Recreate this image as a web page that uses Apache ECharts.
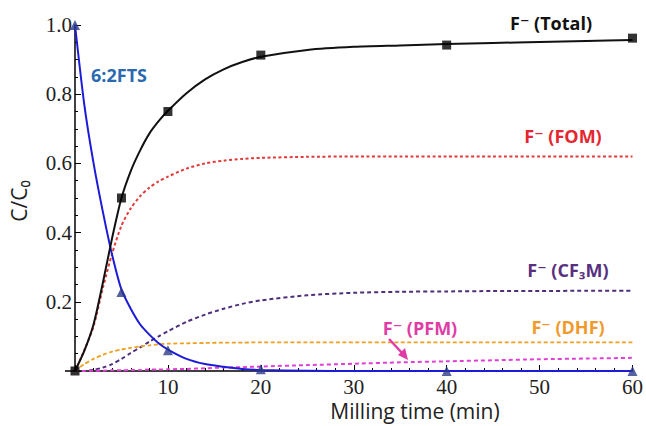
<!DOCTYPE html>
<html>
<head>
<meta charset="utf-8">
<script src="https://cdn.jsdelivr.net/npm/echarts@6/dist/echarts.min.js"></script>
<style>
html,body{margin:0;padding:0;background:#fff;}
#chart{width:646px;height:426px;}
</style>
</head>
<body>
<div id="chart"></div>
<script>
// ---- data ----
const curveT   = [0,1,2,3,4,5,6,7,8,9,10,12,14,16,18,20,25,30,35,40,45,50,55,60];
const totalFit = [0,0.058,0.135,0.255,0.385,0.5,0.578,0.637,0.686,0.722,0.752,0.803,0.843,0.872,0.893,0.908,0.928,0.937,0.941,0.945,0.948,0.951,0.954,0.957];
const ftsFit   = [1.0,0.77,0.6,0.46,0.335,0.235,0.18,0.135,0.105,0.08,0.062,0.035,0.02,0.012,0.006,0.003,0.001,0,0,0,0,0,0,0];
const fomFit   = [0,0.06,0.13,0.24,0.34,0.42,0.47,0.505,0.53,0.548,0.562,0.585,0.6,0.608,0.613,0.616,0.619,0.62,0.62,0.62,0.62,0.62,0.62,0.62];
const cf3mFit  = [0,0,0.003,0.01,0.02,0.035,0.052,0.068,0.085,0.1,0.115,0.142,0.163,0.18,0.194,0.204,0.219,0.226,0.229,0.23,0.231,0.231,0.232,0.232];
const dhfFit   = [0,0.02,0.035,0.047,0.056,0.062,0.067,0.071,0.074,0.077,0.079,0.08,0.081,0.082,0.082,0.083,0.083,0.083,0.083,0.083,0.083,0.083,0.083,0.083];
const pfmFit   = [0,0,0.001,0.001,0.002,0.002,0.003,0.003,0.004,0.004,0.005,0.006,0.008,0.01,0.011,0.013,0.017,0.021,0.025,0.028,0.031,0.034,0.036,0.038];

const measT    = [0,5,10,20,40,60];
const totalObs = [0,0.5,0.75,0.913,0.942,0.962];
const ftsObs   = [1.0,0.228,0.06,0.005,0,0];

const xTicks = [10,20,30,40,50,60];
const yTicks = [0.2,0.4,0.6,0.8,1.0];

const pair = (xs, ys) => xs.map((x, i) => [x, ys[i]]);

const chart = echarts.init(document.getElementById('chart'), null, {renderer: 'svg'});

function fitLine(name, data, color, width, dash, z) {
  return {
    name, type: 'line', data: pair(curveT, data), smooth: 0.25,
    showSymbol: false, symbol: 'none', z: z || 2,
    lineStyle: {color, width, type: dash || 'solid'}
  };
}

const labelFont = "'Open Sans', 'DejaVu Sans', sans-serif";
function note(text, x, y, color) {
  return {
    type: 'text', x, y,
    style: {text, fill: color, font: "bold 18px " + labelFont, textAlign: 'center', textVerticalAlign: 'middle'},
    z: 10
  };
}

chart.setOption({
  animation: false,
  grid: {left: 75, right: 10, top: 25, bottom: 55},
  xAxis: {
    type: 'value', min: 0, max: 60, interval: 10,
    axisLine: {lineStyle: {color: '#000', width: 1.5}},
    axisTick: {inside: true, length: 6, lineStyle: {color: '#000'}},
    minorTick: {show: true, splitNumber: 5, length: 3, lineStyle: {color: '#000'}},
    splitLine: {show: false},
    axisLabel: {
      showMinLabel: false, margin: 5,
      fontFamily: "'Liberation Serif', 'DejaVu Serif', serif", fontSize: 21, color: '#222',
      formatter: v => xTicks.indexOf(v) >= 0 ? String(v) : ''
    }
  },
  yAxis: {
    type: 'value', min: 0, max: 1.0, interval: 0.2,
    axisLine: {show: true, lineStyle: {color: '#000', width: 1.5}},
    axisTick: {show: true, inside: true, length: 6, lineStyle: {color: '#000'}},
    minorTick: {show: true, splitNumber: 4, length: 3, lineStyle: {color: '#000'}},
    splitLine: {show: false},
    axisLabel: {
      showMinLabel: false, margin: 3,
      fontFamily: "'Liberation Serif', 'DejaVu Serif', serif", fontSize: 21, color: '#222',
      formatter: v => {
        const hit = yTicks.find(t => Math.abs(t - v) < 1e-9);
        return hit !== undefined ? hit.toFixed(1) : '';
      }
    }
  },
  series: [
    fitLine('F⁻ (FOM)', fomFit, '#e03a3a', 2, [3, 2.5], 2),
    fitLine('F⁻ (CF₃M)', cf3mFit, '#4e2f7a', 2, [4, 3], 2),
    fitLine('F⁻ (DHF)', dhfFit, '#f0a020', 1.8, [4, 2.5], 2),
    fitLine('F⁻ (PFM)', pfmFit, '#e040d8', 2, [4, 3], 2),
    fitLine('6:2FTS', ftsFit, '#1c1cd8', 2, 'solid', 3),
    fitLine('F⁻ (Total)', totalFit, '#111', 2, 'solid', 3),
    {
      name: 'Total obs', type: 'scatter', data: pair(measT, totalObs),
      symbol: 'rect', symbolSize: 9, itemStyle: {color: '#000'}, z: 5
    },
    {
      name: '6:2FTS obs', type: 'scatter', data: pair(measT, ftsObs),
      symbol: 'triangle', symbolSize: 10, itemStyle: {color: '#2a3a88'}, z: 4
    }
  ],
  graphic: [
    {type: 'line', shape: {x1: 65, y1: 371, x2: 75, y2: 371}, style: {stroke: '#000', lineWidth: 1.5}},
    {
      type: 'text', x: 415, y: 411,
      style: {text: 'Milling time (min)', fill: '#222', font: "21px " + labelFont, textAlign: 'center', textVerticalAlign: 'middle'}
    },
    {
      type: 'text', x: 19, y: 201, rotation: Math.PI / 2,
      style: {text: 'C/C₀', fill: '#222', font: "21px " + labelFont, textAlign: 'center', textVerticalAlign: 'middle'}
    },
    note('F⁻ (Total)', 551, 23, '#111'),
    note('6:2FTS', 119, 75, '#2a69b0'),
    note('F⁻ (FOM)', 563, 136, '#e42630'),
    note('F⁻ (CF₃M)', 568, 270, '#58307f'),
    note('F⁻ (PFM)', 420, 328, '#e03ca6'),
    note('F⁻ (DHF)', 568, 327, '#f09a2c'),
    {type: 'line', shape: {x1: 389, y1: 339, x2: 403, y2: 354}, style: {stroke: '#e03ca6', lineWidth: 2.5}, z: 10},
    {type: 'polygon', shape: {points: [[408, 360], [398, 355], [405, 348]]}, style: {fill: '#e03ca6'}, z: 10}
  ]
});
</script>
</body>
</html>
